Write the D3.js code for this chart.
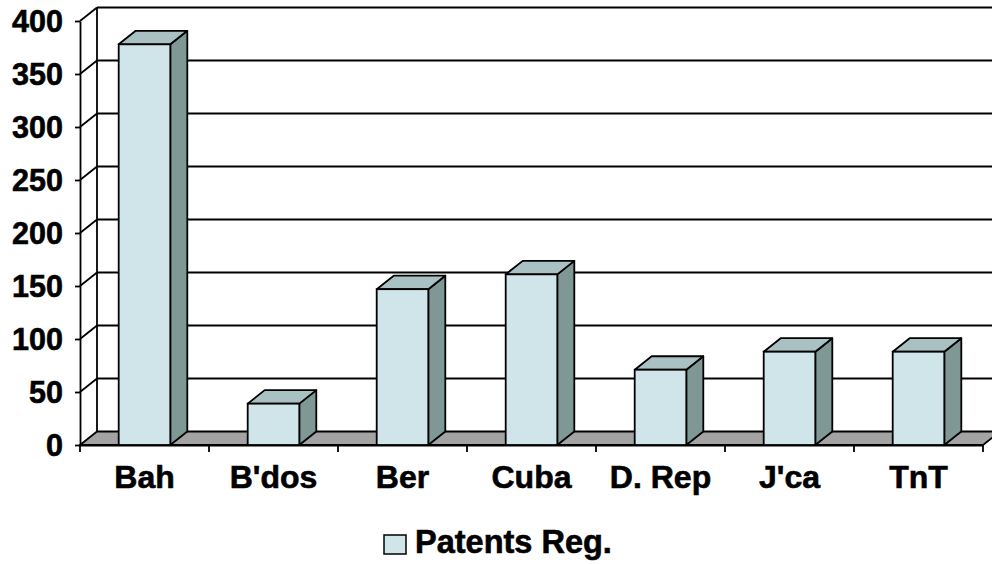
<!DOCTYPE html>
<html><head><meta charset="utf-8">
<script src="https://cdn.jsdelivr.net/npm/d3@7"></script>
<style>
html,body{margin:0;padding:0;background:#fff;}
svg{display:block;font-family:"Liberation Sans",Arial,sans-serif;font-weight:bold;}
</style></head>
<body>
<svg id="chart" width="992" height="564"></svg>
<script>
const categories = ["Bah","B'dos","Ber","Cuba","D. Rep","J'ca","TnT"];
const values = [378, 39, 147, 161, 71, 88, 88];
const yTicks = [0,50,100,150,200,250,300,350,400];
const seriesName = "Patents Reg.";

const W = 992, H = 564;
const x0 = 80, x1 = 983, yBase = 445, yTop = 21;
const dx = 17, dy = 13.5;
const cFront = "#cfe5ea", cSide = "#7f9795", cTop = "#a9c1c2", cFloor = "#a3a3a3";
const sw = 1.8;
const FONT = "Liberation Sans, Arial, sans-serif";

const svg = d3.select("#chart");
const y = d3.scaleLinear().domain([0,400]).range([yBase, yTop]);
const xb = d3.scaleBand().domain(categories).range([x0, x1]).paddingInner(0.6).paddingOuter(0.3);
const step = xb.step();

// back wall gridlines
const g = svg.append("g");
g.selectAll("line.grid").data(yTicks.filter(d=>d>0)).join("line")
  .attr("x1", x0+dx).attr("x2", x1+dx)
  .attr("y1", d=>y(d)-dy).attr("y2", d=>y(d)-dy)
  .attr("stroke","#000").attr("stroke-width",sw);
// side wall diagonals
g.selectAll("line.diag").data(yTicks.filter(d=>d>0)).join("line")
  .attr("x1", x0).attr("y1", d=>y(d))
  .attr("x2", x0+dx).attr("y2", d=>y(d)-dy)
  .attr("stroke","#000").attr("stroke-width",sw);
// back wall left edge
g.append("line").attr("x1",x0+dx).attr("x2",x0+dx).attr("y1",y(400)-dy).attr("y2",y(0)-dy)
  .attr("stroke","#000").attr("stroke-width",sw);

// floor
g.append("path")
  .attr("d", `M${x0},${y(0)} L${x1},${y(0)} L${x1+dx},${y(0)-dy} L${x0+dx},${y(0)-dy} Z`)
  .attr("fill", cFloor).attr("stroke","#000").attr("stroke-width",sw).attr("stroke-linejoin","round");

// y axis
const yAxis = d3.axisLeft(y).tickValues(yTicks).tickSize(5).tickPadding(12).tickSizeOuter(0);
const ya = svg.append("g").attr("transform",`translate(${x0},0)`).call(yAxis);
ya.select(".domain").attr("stroke","#000").attr("stroke-width",sw);
ya.selectAll(".tick line").attr("stroke","#000").attr("stroke-width",sw);
ya.selectAll(".tick text").attr("font-size",30.5).attr("font-weight","bold")
  .attr("font-family",FONT).attr("fill","#000").attr("stroke","#000").attr("stroke-width",0.6)
  .attr("dy","0.36em");

// x axis
const xAxis = d3.axisBottom(xb).tickSize(0).tickPadding(20).tickSizeOuter(0);
const xa = svg.append("g").attr("transform",`translate(0,${yBase})`).call(xAxis);
xa.select(".domain").attr("stroke","#000").attr("stroke-width",sw);
xa.selectAll(".tick text").attr("font-size",32).attr("font-weight","bold")
  .attr("font-family",FONT).attr("fill","#000").attr("stroke","#000").attr("stroke-width",0.6);
// category boundary ticks
svg.append("g").selectAll("line").data(d3.range(categories.length+1)).join("line")
  .attr("x1", i=>x0+i*step).attr("x2", i=>x0+i*step)
  .attr("y1", yBase).attr("y2", yBase+7)
  .attr("stroke","#000").attr("stroke-width",sw);

// bars
const bars = svg.append("g").selectAll("g").data(categories.map((c,i)=>({c, v: values[i]}))).join("g");
bars.append("path").attr("d", d=>{
  const a = xb(d.c)+xb.bandwidth(), t = y(d.v), b = y(0);
  return `M${a},${t} L${a},${b} L${a+dx},${b-dy} L${a+dx},${t-dy} Z`;
}).attr("fill", cSide).attr("stroke","#000").attr("stroke-width",sw).attr("stroke-linejoin","round");
bars.append("path").attr("d", d=>{
  const l = xb(d.c), r = l+xb.bandwidth(), t = y(d.v);
  return `M${l},${t} L${r},${t} L${r+dx},${t-dy} L${l+dx},${t-dy} Z`;
}).attr("fill", cTop).attr("stroke","#000").attr("stroke-width",sw).attr("stroke-linejoin","round");
bars.append("rect")
  .attr("x", d=>xb(d.c)).attr("y", d=>y(d.v))
  .attr("width", xb.bandwidth()).attr("height", d=>y(0)-y(d.v))
  .attr("fill", cFront).attr("stroke","#000").attr("stroke-width",sw);

// legend
const lg = svg.append("g").attr("transform","translate(384,535)");
lg.append("rect").attr("x",0).attr("y",0).attr("width",22).attr("height",19)
  .attr("fill",cFront).attr("stroke","#000").attr("stroke-width",1.5);
lg.append("text").attr("x",31).attr("y",18).attr("font-size",32.5).attr("font-weight","bold")
  .attr("font-family",FONT).attr("fill","#000").attr("stroke","#000").attr("stroke-width",0.6)
  .text(seriesName);
</script>
</body></html>
